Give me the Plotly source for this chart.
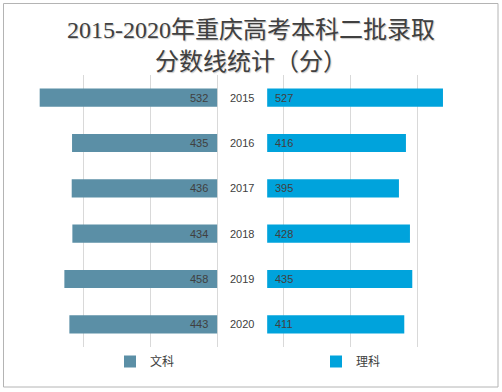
import plotly.graph_objects as go

years = ["2015", "2016", "2017", "2018", "2019", "2020"]
wenke = [532, 435, 436, 434, 458, 443]
like = [527, 416, 395, 428, 435, 411]
title_lines = ["2015-2020年重庆高考本科二批录取", "分数线统计（分）"]

W, H = 502, 392
L, R, T, B = 17, 18, 75, 45
RIGHT_BASE = 150

col_w = "#5b8fa6"
col_l = "#00a3dc"
txt = "#404040"
lab_font = dict(size=11, color=txt, family="Liberation Sans, Noto Sans CJK SC")

pw = W - L - R
ph = H - T - B
def px(x):
    return (x - L) / pw
def py(y):
    return (H - B - y) / ph

fig = go.Figure()
fig.add_trace(go.Bar(
    y=years, x=[-v for v in wenke], orientation="h",
    name="文科", marker=dict(color=col_w, line=dict(width=0)),
    legend="legend", hoverinfo="skip",
))
fig.add_trace(go.Bar(
    y=years, x=like, base=[RIGHT_BASE] * len(like), orientation="h",
    name="理科", marker=dict(color=col_l, line=dict(width=0)),
    legend="legend2", hoverinfo="skip",
))

ann = []
for i, (yr, a, b) in enumerate(zip(years, wenke, like)):
    ann.append(dict(x=0, y=i, text=str(a), showarrow=False, xanchor="right",
                    xshift=-7, font=lab_font))
    ann.append(dict(x=RIGHT_BASE, y=i, text=str(b), showarrow=False, xanchor="left",
                    xshift=6, font=lab_font))
    ann.append(dict(x=RIGHT_BASE / 2, y=i, text=yr, showarrow=False, xanchor="center",
                    font=lab_font))

title_font = dict(size=24, color=txt, family="Liberation Serif, Noto Sans CJK SC",
                  shadow="1px 1px 1px #c8c8c8")
for line, yc in zip(title_lines, [30, 62]):
    ann.append(dict(xref="paper", yref="paper", x=px(251), y=py(yc), text=line,
                    showarrow=False, xanchor="center", yanchor="middle",
                    font=title_font))

leg_font = dict(size=12, color=txt, family="Noto Sans CJK SC")

fig.update_layout(
    width=W, height=H,
    margin=dict(l=L, r=R, t=T, b=B),
    paper_bgcolor="white", plot_bgcolor="white",
    barmode="overlay", bargap=0.6,
    showlegend=True,
    xaxis=dict(range=[-600, 800], dtick=200, tick0=0, showgrid=True,
               gridcolor="#d9d9d9", gridwidth=1, zeroline=False,
               showticklabels=False, fixedrange=True, showline=False),
    yaxis=dict(type="category", categoryorder="array", categoryarray=years,
               range=[len(years) - 0.5, -0.5], showticklabels=False,
               showgrid=False, zeroline=False, showline=False, fixedrange=True),
    legend=dict(orientation="h", x=px(110), xanchor="left", y=py(347), yanchor="top",
                font=leg_font, bgcolor="rgba(0,0,0,0)"),
    legend2=dict(orientation="h", x=px(316), xanchor="left", y=py(347), yanchor="top",
                 font=leg_font, bgcolor="rgba(0,0,0,0)"),
    annotations=ann,
    shapes=[dict(type="rect", xref="paper", yref="paper",
                 x0=px(3.5), x1=px(498), y0=py(387), y1=py(3.5),
                 line=dict(color="#b4b4b4", width=1), fillcolor="rgba(0,0,0,0)",
                 layer="below")],
)

fig.write_html("out.html", config={"displayModeBar": False},
               post_script="document.body.style.margin='0px';")
